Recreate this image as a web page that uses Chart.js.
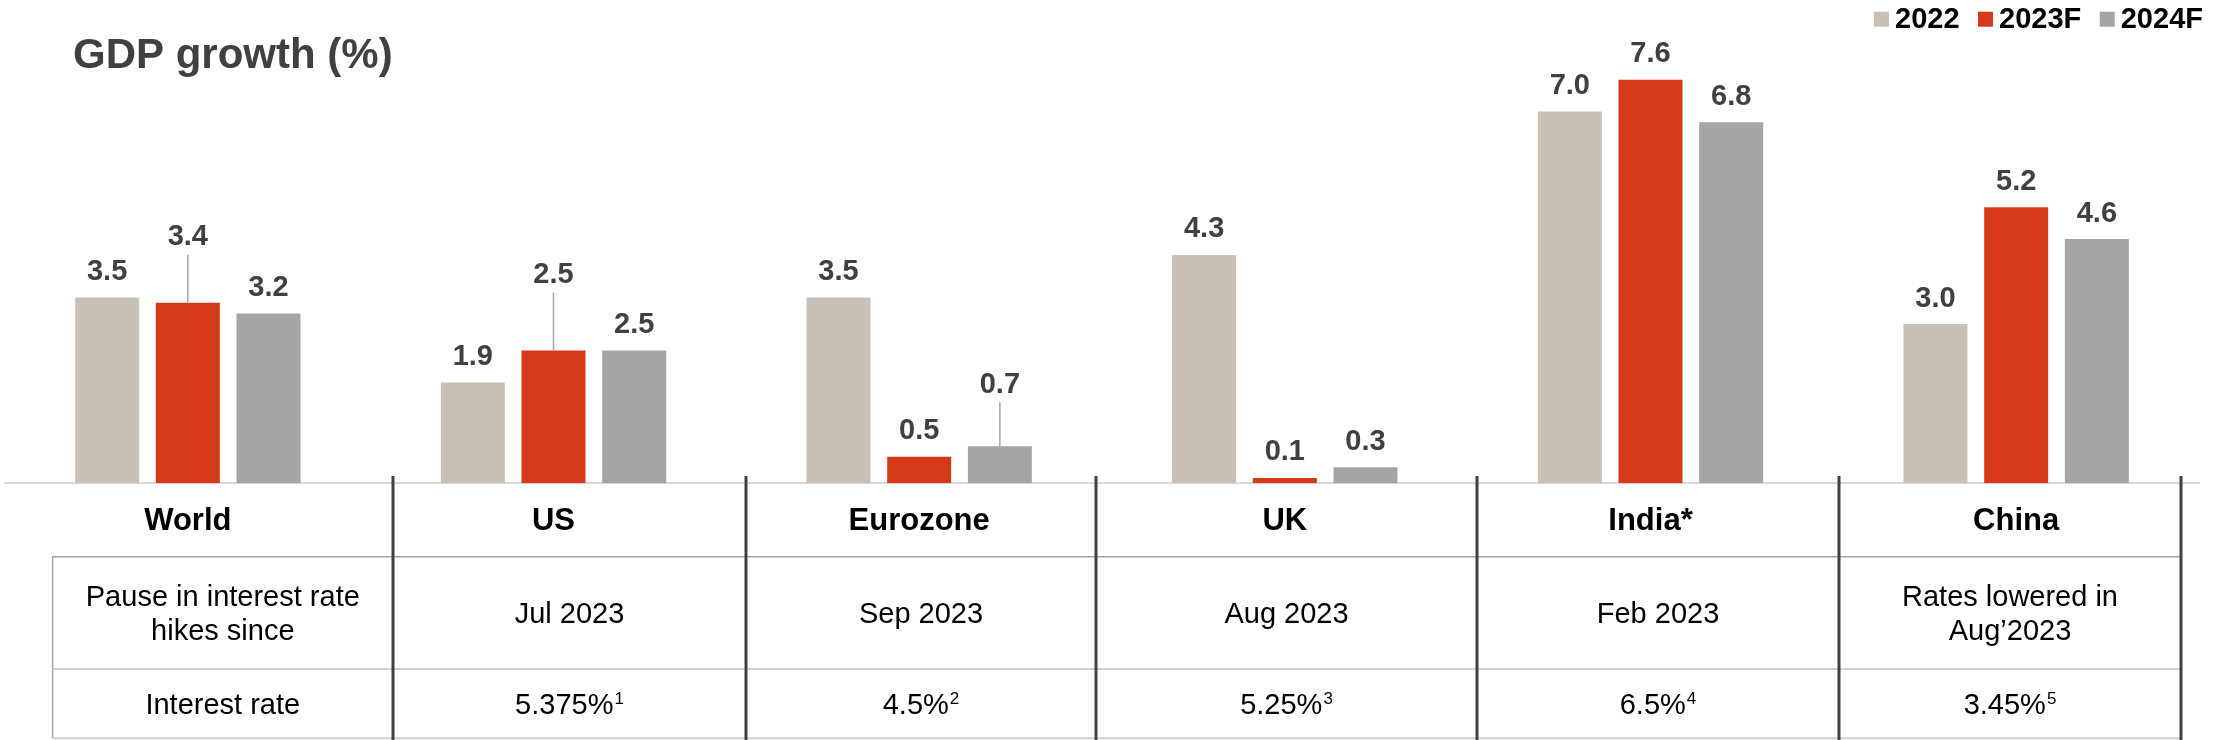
<!DOCTYPE html>
<html>
<head>
<meta charset="utf-8">
<title>GDP growth</title>
<script src="https://cdn.jsdelivr.net/npm/chart.js@4.4.1/dist/chart.umd.min.js"></script>
<style>
  html, body { margin: 0; padding: 0; background: #fff; }
  #wrap { position: relative; width: 2216px; height: 740px; }
</style>
</head>
<body>
<div id="wrap"><canvas id="gdpChart"></canvas></div>
<script>
// data
const categories = ["World", "US", "Eurozone", "UK", "India*", "China"];
const seriesNames = ["2022", "2023F", "2024F"];
const gdp2022 = [3.5, 1.9, 3.5, 4.3, 7.0, 3.0];
const gdp2023F = [3.4, 2.5, 0.5, 0.1, 7.6, 5.2];
const gdp2024F = [3.2, 2.5, 0.7, 0.3, 6.8, 4.6];

const pauseSince = ["Pause in interest rate\nhikes since", "Jul 2023", "Sep 2023", "Aug 2023", "Feb 2023", "Rates lowered in\nAug\u20192023"];
const interestRates = ["Interest rate", "5.375%", "4.5%", "5.25%", "6.5%", "3.45%"];
const rateNotes = ["", "1", "2", "3", "4", "5"];

// styling / layout
const FONT = '"Liberation Sans", Arial, Helvetica, sans-serif';
const colors = ["#c9c0b6", "#d63918", "#a5a5a5"];
const darkText = "#404040";
// extra lift for labels that sit on a leader line (series x category)
const labelLift = [
    [0, 0, 0, 0, 0, 0],
    [40, 50, 0, 0, 0, 0],
    [0, 0, 36, 0, 0, 0]
];
const tableCols = [52.6, 393, 746, 1096, 1477, 1839, 2181];
const tableRows = [556.7, 669, 738.3];

const gdpExtras = {
    id: "gdpExtras",
    afterDatasetsDraw(chart) {
        const ctx = chart.ctx;
        ctx.save();
        ctx.font = "700 29px " + FONT;
        ctx.fillStyle = darkText;
        ctx.textAlign = "center";
        ctx.textBaseline = "alphabetic";
        chart.data.datasets.forEach(function (ds, di) {
            const meta = chart.getDatasetMeta(di);
            meta.data.forEach(function (bar, i) {
                const lift = labelLift[di][i];
                const base = bar.y - 17.5 - lift;
                ctx.fillText(ds.data[i].toFixed(1), bar.x, base);
                if (lift > 0) {
                    ctx.strokeStyle = "#a6a6a6";
                    ctx.lineWidth = 1.5;
                    ctx.beginPath();
                    ctx.moveTo(bar.x, base + 9.5);
                    ctx.lineTo(bar.x, bar.y);
                    ctx.stroke();
                }
            });
        });
        ctx.restore();
    },
    afterDraw(chart) {
        const ctx = chart.ctx;
        ctx.save();

        // title
        ctx.font = "700 42px " + FONT;
        ctx.fillStyle = darkText;
        ctx.textAlign = "left";
        ctx.textBaseline = "alphabetic";
        ctx.fillText("GDP growth (%)", 73, 68);

        // legend
        ctx.font = "700 29px " + FONT;
        let lx = 1874;
        chart.data.datasets.forEach(function (ds) {
            ctx.fillStyle = ds.backgroundColor;
            ctx.fillRect(lx, 11.7, 15, 15);
            ctx.fillStyle = "#000";
            ctx.fillText(ds.label, lx + 21, 28.3);
            lx += 21 + ctx.measureText(ds.label).width + 18.5;
        });

        // table lines
        const left = tableCols[0], right = tableCols[tableCols.length - 1];
        ctx.lineWidth = 1.5;
        ctx.strokeStyle = "#a8a29a";
        ctx.beginPath();
        ctx.moveTo(left, tableRows[0]); ctx.lineTo(right, tableRows[0]);
        ctx.moveTo(left, tableRows[0]); ctx.lineTo(left, tableRows[2]);
        ctx.stroke();
        ctx.lineWidth = 2;
        ctx.strokeStyle = "#d3d0cb";
        ctx.beginPath();
        ctx.moveTo(left, tableRows[1]); ctx.lineTo(right, tableRows[1]);
        ctx.moveTo(left, tableRows[2]); ctx.lineTo(right, tableRows[2]);
        ctx.stroke();

        // dark column dividers
        ctx.lineWidth = 3;
        ctx.strokeStyle = darkText;
        ctx.beginPath();
        for (let c = 1; c < tableCols.length; c++) {
            ctx.moveTo(tableCols[c], 476);
            ctx.lineTo(tableCols[c], 740);
        }
        ctx.stroke();

        // table text
        ctx.fillStyle = "#000";
        ctx.textAlign = "left";
        const lineH = 34.3;
        for (let c = 0; c < categories.length; c++) {
            const cx = (tableCols[c] + tableCols[c + 1]) / 2;
            // row 1
            ctx.font = "29px " + FONT;
            const lines = pauseSince[c].split("\n");
            const mid1 = (tableRows[0] + tableRows[1]) / 2;
            lines.forEach(function (t, k) {
                const y = mid1 + (k - (lines.length - 1) / 2) * lineH + 10.4;
                const w = ctx.measureText(t).width;
                ctx.fillText(t, cx - w / 2, y);
            });
            // row 2 with superscript note
            const mid2 = (tableRows[1] + tableRows[2]) / 2;
            const y2 = mid2 + 10.4;
            ctx.font = "29px " + FONT;
            const mainW = ctx.measureText(interestRates[c]).width;
            ctx.font = "17px " + FONT;
            const noteW = rateNotes[c] ? ctx.measureText(rateNotes[c]).width + 1 : 0;
            const x0 = cx - (mainW + noteW) / 2;
            ctx.font = "29px " + FONT;
            ctx.fillText(interestRates[c], x0, y2);
            if (rateNotes[c]) {
                ctx.font = "17px " + FONT;
                ctx.fillText(rateNotes[c], x0 + mainW + 1, y2 - 10);
            }
        }
        ctx.restore();
    }
};

new Chart(document.getElementById("gdpChart"), {
    type: "bar",
    data: {
        labels: categories,
        datasets: [
            { label: seriesNames[0], data: gdp2022, backgroundColor: colors[0] },
            { label: seriesNames[1], data: gdp2023F, backgroundColor: colors[1] },
            { label: seriesNames[2], data: gdp2024F, backgroundColor: colors[2] }
        ]
    },
    options: {
        responsive: true,
        maintainAspectRatio: false,
        animation: false,
        devicePixelRatio: 1,
        layout: { padding: { left: 5, right: 17, top: 58.5, bottom: 180.5 } },
        datasets: {
            bar: { categoryPercentage: 0.662, barPercentage: 0.793, borderWidth: 0 }
        },
        plugins: {
            legend: { display: false },
            title: { display: false },
            tooltip: { enabled: false }
        },
        scales: {
            x: {
                grid: { display: false, drawTicks: false },
                border: { display: true, color: "#d9d9d9", width: 2 },
                ticks: {
                    color: "#000",
                    padding: 19.5,
                    maxRotation: 0,
                    autoSkip: false,
                    font: { family: FONT, size: 31, weight: "bold" }
                }
            },
            y: { display: false, min: 0, max: 8 }
        }
    },
    plugins: [gdpExtras]
});
</script>
</body>
</html>
